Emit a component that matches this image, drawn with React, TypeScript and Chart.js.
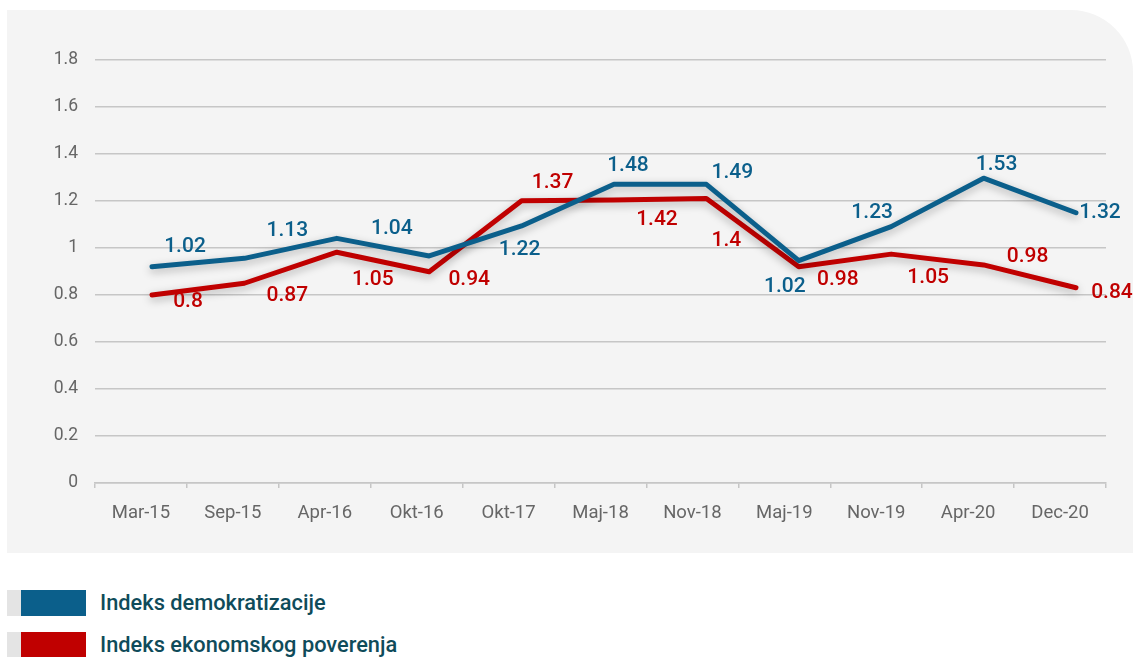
import React, { useEffect, useRef } from "react";
import { Chart, registerables } from "chart.js";

Chart.register(...registerables);

// ---------- data ----------
const categories = ["Mar-15", "Sep-15", "Apr-16", "Okt-16", "Okt-17", "Maj-18", "Nov-18", "Maj-19", "Nov-19", "Apr-20", "Dec-20"];
const demokratizacija = [0.92, 0.956, 1.041, 0.966, 1.094, 1.271, 1.271, 0.946, 1.091, 1.297, 1.15];
const ekonomsko = [0.8, 0.85, 0.982, 0.899, 1.201, 1.204, 1.211, 0.92, 0.974, 0.928, 0.831];
const demokratizacijaLabels = ["1.02", "1.13", "1.04", null, "1.22", "1.48", "1.49", "1.02", "1.23", "1.53", "1.32"];
const ekonomskoLabels = ["0.8", "0.87", "1.05", "0.94", "1.37", "1.42", "1.4", "0.98", "1.05", "0.98", "0.84"];
const seriesNames = ["Indeks demokratizacije", "Indeks ekonomskog poverenja"];
const yMin = 0;
const yMax = 1.8;
const yStep = 0.2;

// ---------- layout / style (not data) ----------
const BLUE = "#0b5f8b";
const RED = "#c00000";
const GRID = "#c6c6c6";
const demoLabelOffsets = [[33, -20], [43, -28], [55, -10], [0, 0], [-2, 24], [14, -19], [26, -12], [-14, 26], [-19, -14], [13, -13], [24, 0]];
const ekoLabelOffsets = [[36, 7], [43, 12], [36, 28], [40, 8], [31, -18], [43, 20], [20, 42], [39, 13], [37, 24], [44, -8], [36, 5]];
const FONT = "Roboto, 'Noto Sans', sans-serif";

const shadowAndLabels = {
  id: "shadowAndLabels",
  beforeDatasetDraw(chart: any) {
    const ctx = chart.ctx;
    ctx.save();
    ctx.shadowColor = "rgba(0,0,0,0.28)";
    ctx.shadowBlur = 8;
    ctx.shadowOffsetX = 0;
    ctx.shadowOffsetY = 3;
  },
  afterDatasetDraw(chart: any) {
    chart.ctx.restore();
  },
  afterDatasetsDraw(chart: any) {
    const ctx = chart.ctx;
    const sets = [
      { labels: demokratizacijaLabels, offsets: demoLabelOffsets, color: BLUE },
      { labels: ekonomskoLabels, offsets: ekoLabelOffsets, color: RED },
    ];
    ctx.save();
    ctx.font = `500 21px ${FONT}`;
    ctx.textAlign = "center";
    ctx.textBaseline = "middle";
    sets.forEach((s, di) => {
      const meta = chart.getDatasetMeta(di);
      meta.data.forEach((pt: any, i: number) => {
        const t = s.labels[i];
        if (t == null) return;
        ctx.fillStyle = s.color;
        ctx.fillText(t, pt.x + s.offsets[i][0], pt.y + s.offsets[i][1]);
      });
    });
    ctx.restore();
  },
};

function ChartCanvas() {
  const ref = useRef<HTMLCanvasElement | null>(null);
  useEffect(() => {
    if (!ref.current) return;
    const chart = new Chart(ref.current, {
      type: "line",
      data: {
        labels: categories,
        datasets: [
          {
            label: seriesNames[0],
            data: demokratizacija.map((v, i) => ({ x: i, y: v })),
            xAxisID: "xl",
            borderColor: BLUE,
            backgroundColor: BLUE,
            borderWidth: 5,
            pointRadius: 0,
            tension: 0,
            borderJoinStyle: "round",
            borderCapStyle: "round",
          },
          {
            label: seriesNames[1],
            data: ekonomsko.map((v, i) => ({ x: i, y: v })),
            xAxisID: "xl",
            borderColor: RED,
            backgroundColor: RED,
            borderWidth: 5,
            pointRadius: 0,
            tension: 0,
            borderJoinStyle: "round",
            borderCapStyle: "round",
          },
        ],
      },
      options: {
        animation: false,
        responsive: false,
        maintainAspectRatio: false,
        layout: { padding: { left: 0, right: 27, top: 50, bottom: 0 } },
        plugins: { legend: { display: false }, tooltip: { enabled: false } },
        scales: {
          x: {
            type: "category",
            labels: categories,
            offset: true,
            afterFit: (s: any) => { s.height = 70; },
            grid: { offset: true, drawOnChartArea: false, drawTicks: true, tickLength: 5, color: GRID, lineWidth: 1.5 },
            border: { display: true, color: GRID, width: 1.5 },
            ticks: { color: "#666666", font: { family: FONT, size: 18.5 }, padding: 14, maxRotation: 0, autoSkip: false },
          },
          xl: {
            type: "linear",
            display: false,
            min: -0.617,
            max: 10.325,
          },
          y: {
            type: "linear",
            min: yMin,
            max: yMax,
            afterFit: (s: any) => { s.width = 88; },
            grid: { color: GRID, lineWidth: 1.5, drawTicks: false },
            border: { display: false },
            ticks: {
              stepSize: yStep,
              padding: 17,
              color: "#666666",
              font: { family: FONT, size: 17.5 },
              callback: (v: any) => String(Number(Number(v).toFixed(1))),
            },
          },
        },
      },
      plugins: [shadowAndLabels],
    } as any);
    return () => chart.destroy();
  }, []);
  return <canvas ref={ref} width={1126} height={543} style={{ display: "block", width: 1126, height: 543 }} />;
}

export default function App() {
  const legendColors = [BLUE, RED];
  return (
    <div style={{ position: "fixed", left: 0, top: 0, width: 1136, height: 657, background: "#ffffff", overflow: "hidden" }}>
      <div style={{ position: "absolute", left: 7, top: 10, width: 1126, height: 543, background: "#f4f4f4", borderTopRightRadius: 62 }}>
        <ChartCanvas />
      </div>
      {seriesNames.map((name, i) => (
        <div key={name} style={{ position: "absolute", left: 7, top: 590 + i * 42, height: 26, display: "flex", alignItems: "center" }}>
          <div style={{ width: 14, height: 26, background: "#e4e4e4" }} />
          <div style={{ width: 65, height: 26, background: legendColors[i] }} />
          <div style={{ marginLeft: 14, fontFamily: FONT, fontWeight: 500, fontSize: 21.8, color: "#0f4b5a", lineHeight: "26px", whiteSpace: "nowrap" }}>{name}</div>
        </div>
      ))}
    </div>
  );
}
